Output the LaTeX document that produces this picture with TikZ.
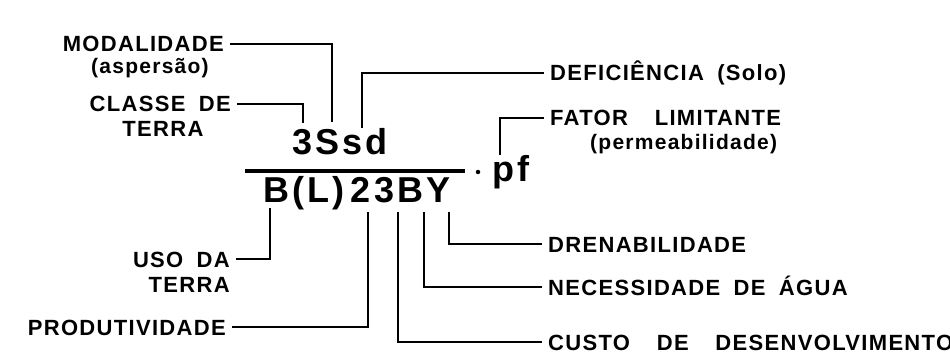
\documentclass[tikz,border=0pt]{standalone}
\usepackage{fontspec}
\usetikzlibrary{positioning}
\newfontfamily\letterfont{Liberation Sans}[LetterSpace=6, WordSpace=1.8]
\newfontfamily\codefont{Liberation Sans}[LetterSpace=9]
\tikzset{
  lbl/.style={font=\letterfont\bfseries\fontsize{22}{24}\selectfont, inner xsep=6pt, inner ysep=0pt, text height=15.5pt, text depth=0pt},
  sublbl/.style={font=\letterfont\bfseries\fontsize{21}{23}\selectfont, inner sep=0pt},
  code/.style={font=\codefont\bfseries\fontsize{36}{40}\selectfont, inner sep=0pt},
  lead/.style={line width=1.6pt, draw=black},
  bar/.style={line width=4pt, draw=black}
}
\begin{document}
\begin{tikzpicture}[x=1pt,y=1pt]
\useasboundingbox (0,0) rectangle (950,-358);

% Symbol
\node[code, anchor=base] (num) at (340,-155) {3Ssd};
\node[code, anchor=base] (den) at (357,-203) {B(L)\hspace{6pt}23BY};
\coordinate (barL) at (245,-171);
\coordinate (barR) at (465,-171);
\draw[bar] (barL) -- (barR);
\node[circle, fill=black, inner sep=0pt, minimum size=4.5pt] (dot) at (478,-172) {};
\node[code, anchor=base west] (pf) at (492,-182) {pf};

% Tick points
\coordinate (tC) at (303,-123);
\coordinate (tM) at (332,-122);
\coordinate (tD) at (362,-128);
\coordinate (tP) at (500,-155);
\coordinate (tU) at (270,-208);
\coordinate (tN) at (368,-212);
\coordinate (tK) at (398,-212);
\coordinate (tW) at (424,-212);
\coordinate (tR) at (449,-212);

% Left labels
\node[lbl, anchor=base east] (modal) at (230,-52) {MODALIDADE};
\node[sublbl, anchor=base] (asper) at (150,-74) {(aspersão)};
\node[lbl, anchor=base east] (classe) at (237,-112) {CLASSE DE};
\node[lbl, anchor=base] (terraA) at (163,-137) {TERRA};
\node[lbl, anchor=base east] (uso) at (236,-267) {USO DA};
\node[lbl, anchor=base east] (terraB) at (236,-292) {TERRA};
\node[lbl, anchor=base east] (prod) at (232,-335) {PRODUTIVIDADE};

% Right labels
\node[lbl, anchor=base west] (defic) at (544,-81) {DEFICIÊNCIA (Solo)};
\node[lbl, anchor=base west] (fator) at (544,-126) {FATOR \ LIMITANTE};
\node[sublbl, anchor=base west] (perm) at (590,-150) {(permeabilidade)};
\node[lbl, anchor=base west] (dren) at (542,-252) {DRENABILIDADE};
\node[lbl, anchor=base west] (neces) at (542,-295) {NECESSIDADE DE ÁGUA};
\node[lbl, anchor=base west] (custo) at (542,-350) {CUSTO \ DE \ DESENVOLVIMENTO};

% Leaders
\draw[lead] (modal.east) -| (tM);
\draw[lead] (classe.east) -| (tC);
\draw[lead] (tD) |- (defic.west);
\draw[lead] (tP) |- (fator.west);
\draw[lead] (uso.east) -| (tU);
\draw[lead] (prod.east) -| (tN);
\draw[lead] (tK) |- (custo.west);
\draw[lead] (tW) |- (neces.west);
\draw[lead] (tR) |- (dren.west);
\end{tikzpicture}
\end{document}
